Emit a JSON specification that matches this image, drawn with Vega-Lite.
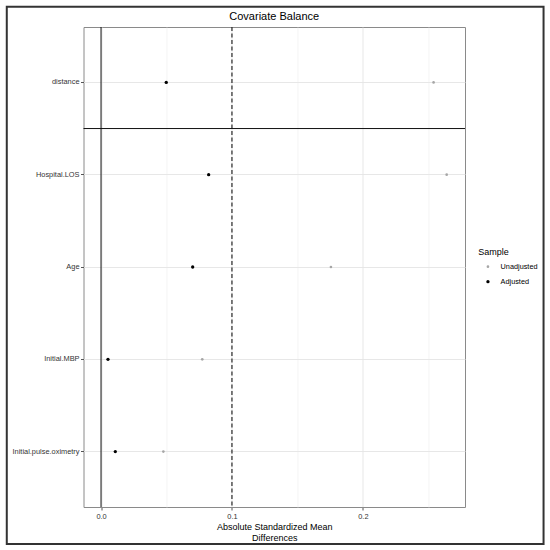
{
  "$schema": "https://vega.github.io/schema/vega-lite/v6.json",
  "width": 381.5,
  "height": 480,
  "autosize": {"type": "none"},
  "padding": {"left": 83.5, "top": 27, "right": 85, "bottom": 43},
  "background": "white",
  "title": {"text": "Covariate Balance", "fontSize": 11, "font": "Liberation Sans", "fontWeight": "normal", "color": "#000000", "anchor": "middle", "offset": -16},
  "config": {
    "view": {"stroke": "#8a8a8a", "strokeWidth": 1},
    "font": "Liberation Sans"
  },
  "layer": [
    {
      "data": {"values": [{}]},
      "mark": {"type": "rect", "filled": false, "stroke": "#333333", "strokeWidth": 2, "clip": false},
      "encoding": {
        "x": {"datum": -0.072, "type": "quantitative", "scale": {"domain": [-0.0134, 0.278], "nice": false, "zero": false}, "axis": null},
        "x2": {"datum": 0.338},
        "y": {"datum": 1.042, "type": "quantitative", "scale": {"domain": [0, 1], "nice": false, "zero": false}, "axis": null},
        "y2": {"datum": -0.077}
      }
    },
    {
      "resolve": {"axis": {"x": "independent"}},
      "layer": [
        {
          "data": {"values": [{}]},
          "mark": {"type": "rule", "color": "#000000", "strokeWidth": 1, "strokeDash": [4, 2.5]},
          "encoding": {
            "x": {"datum": 0.1, "type": "quantitative", "scale": {"domain": [-0.0134, 0.278], "nice": false, "zero": false},
                  "axis": {"orient": "top", "values": [0.05, 0.15, 0.25], "grid": true, "gridColor": "#efefef", "gridWidth": 0.7, "labels": false, "ticks": false, "domain": false, "title": null}}
          }
        },
        {
          "data": {"values": [{}]},
          "mark": {"type": "rule", "color": "#111111", "strokeWidth": 1},
          "encoding": {
            "x": {"datum": 0, "type": "quantitative", "axis": null}
          }
        },
        {
          "data": {"values": [{}]},
          "mark": {"type": "rule", "color": "#111111", "strokeWidth": 1},
          "encoding": {
            "y": {"datum": "Hospital.LOS", "type": "nominal", "bandPosition": 0}
          }
        },
        {
          "data": {"values": [
            {"variable": "distance", "Sample": "Unadjusted", "value": 0.254},
            {"variable": "Hospital.LOS", "Sample": "Unadjusted", "value": 0.264},
            {"variable": "Age", "Sample": "Unadjusted", "value": 0.1756},
            {"variable": "Initial.MBP", "Sample": "Unadjusted", "value": 0.0773},
            {"variable": "Initial.pulse.oximetry", "Sample": "Unadjusted", "value": 0.0476},
            {"variable": "distance", "Sample": "Adjusted", "value": 0.0498},
            {"variable": "Hospital.LOS", "Sample": "Adjusted", "value": 0.0822},
            {"variable": "Age", "Sample": "Adjusted", "value": 0.070},
            {"variable": "Initial.MBP", "Sample": "Adjusted", "value": 0.0053},
            {"variable": "Initial.pulse.oximetry", "Sample": "Adjusted", "value": 0.0109}
          ]},
          "mark": {"type": "circle", "opacity": 1},
          "encoding": {
            "x": {"field": "value", "type": "quantitative",
                  "axis": {"values": [0, 0.1, 0.2], "format": ".1f", "grid": true, "gridColor": "#e4e4e4", "gridWidth": 0.9,
                           "domain": false, "tickSize": 3, "tickColor": "#555555", "labelFontSize": 7.4, "labelColor": "#333333", "labelPadding": 2,
                           "title": ["Absolute Standardized Mean", "Differences"], "titleFontSize": 9, "titleFontWeight": "normal", "titleColor": "#000000", "titleLineHeight": 10.7, "titlePadding": 3.5}},
            "y": {"field": "variable", "type": "nominal",
                  "scale": {"type": "band", "domain": ["distance", "Hospital.LOS", "Age", "Initial.MBP", "Initial.pulse.oximetry"], "paddingInner": 0, "paddingOuter": 0.1},
                  "axis": {"orient": "left", "title": null, "grid": true, "gridColor": "#e4e4e4", "gridWidth": 0.9, "bandPosition": 0.5, "domain": false, "ticks": true, "labels": true, "tickSize": 3, "tickColor": "#555555", "labelFontSize": 7.4, "labelColor": "#333333", "labelPadding": 1.5}},
            "color": {"field": "Sample", "type": "nominal",
                      "scale": {"domain": ["Unadjusted", "Adjusted"], "range": ["#a6a6a6", "#000000"]},
                      "legend": {"title": "Sample", "orient": "none", "legendX": 394.8, "legendY": 221, "titleFontSize": 9, "titleFontWeight": "normal", "titleColor": "#000000", "labelFontSize": 7.3, "labelColor": "#000000", "symbolType": "circle", "padding": 0, "symbolOffset": 6, "labelOffset": 9, "rowPadding": 7, "titlePadding": 6}},
            "size": {"field": "Sample", "type": "nominal", "scale": {"domain": ["Unadjusted", "Adjusted"], "range": [7, 11]}}
          }
        }
      ]
    }
  ],
  "resolve": {"scale": {"y": "independent"}}
}
